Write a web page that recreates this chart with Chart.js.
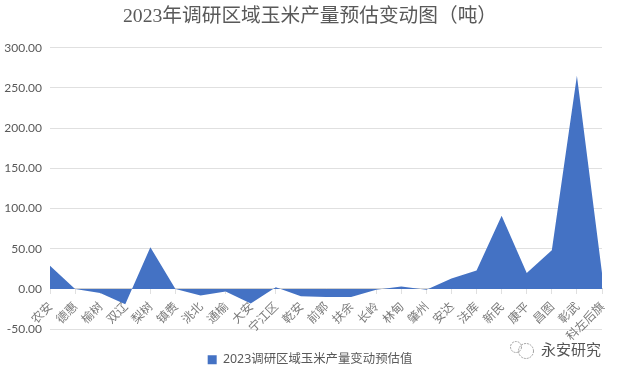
<!DOCTYPE html>
<html>
<head>
<meta charset="utf-8">
<style>
  html, body { margin: 0; padding: 0; background: #ffffff; }
  #wrap { width: 620px; height: 376px; }
</style>
<script src="https://cdn.jsdelivr.net/npm/chart.js@4"></script>
</head>
<body>
<div id="wrap"><canvas id="chartCanvas" width="620" height="376"></canvas></div>
<script>
// ---------------- Data -------------------------------------------------------
const CHART_TITLE = "2023年调研区域玉米产量预估变动图（吨）" ;
const SERIES_NAME = "2023调研区域玉米产量变动预估值" ;
const WATERMARK   = "永安研究" ;

const categories = [
    "农安", "德惠", "榆树", "双辽", "梨树", "镇赉", "洮北", "通榆",
    "大安", "宁江区", "乾安", "前郭", "扶余", "长岭", "林甸", "肇州",
    "安达", "法库", "新民", "康平", "昌图", "彰武", "科左后旗"
] ;
const changeValues = [
    29, 0, -5, -19, 52, 0, -8, -3,
    -18, 2, -9, -10, -10, -1, 3, -1,
    13, 23, 91, 20, 48, 265, 20
] ;
const yTickValues = [ -50, 0, 50, 100, 150, 200, 250, 300 ] ;

// ---------------- Constants --------------------------------------------------
const TEXT_COLOR = "#595959" ;
const GRID_COLOR = "#e0e0e0" ;
const AREA_COLOR = "#4472c4" ;
const SANS_FONT  = "'Noto Sans', 'Noto Sans CJK SC', sans-serif" ;
const CJK_FONT   = "'Noto Sans CJK SC', sans-serif" ;

// The account mark in the bottom right corner of the picture
const watermarkPlugin = {
    id : "watermark",
    afterDraw : function( chart ) {
        const ctx = chart.ctx ;
        ctx.save() ;
        ctx.font = "15px " + CJK_FONT ;
        ctx.fillStyle = "#555555" ;
        ctx.textBaseline = "middle" ;
        ctx.fillText( WATERMARK, 541, 349 ) ;

        ctx.strokeStyle = "#8a8a8a" ;
        ctx.lineWidth = 0.8 ;
        ctx.setLineDash( [ 2, 1 ] ) ;
        ctx.beginPath() ;
        ctx.arc( 516, 347, 5.5, 0, Math.PI * 2 ) ;
        ctx.stroke() ;
        ctx.beginPath() ;
        ctx.arc( 526, 351, 7.5, 0, Math.PI * 2 ) ;
        ctx.stroke() ;
        ctx.restore() ;
    }
} ;

new Chart( document.getElementById( "chartCanvas" ), {
    data : {
        labels : categories,
        datasets : [ {
            type            : "line",
            label           : SERIES_NAME,
            data            : changeValues,
            borderColor     : AREA_COLOR,
            backgroundColor : AREA_COLOR,
            borderWidth     : 0,
            tension         : 0,
            radius          : 0,
            fill            : "origin"
        } ]
    },
    options : {
        responsive : false,
        animation : false,
        plugins : {
            title : {
                display : true,
                text : CHART_TITLE,
                color : TEXT_COLOR,
                font : { family : "'Liberation Serif', 'Noto Sans CJK SC', serif", size : 19.7, weight : "normal" },
                padding : { top : 5, bottom : 19 }
            },
            legend : {
                position : "bottom",
                // the blank legend title only keeps the gap between plot and legend
                title : { display : true, text : " ", font : { size : 12 }, padding : 1.5 },
                labels : {
                    color : TEXT_COLOR,
                    font : { family : SANS_FONT, size : 12.4 },
                    boxWidth : 9,
                    boxHeight : 9,
                    padding : 7
                }
            },
            tooltip : { enabled : false }
        },
        scales : {
            x : {
                type : "category",
                position : { y : 0 },
                offset : false,
                grid : {
                    drawOnChartArea : false,
                    drawTicks : true,
                    tickLength : 5,
                    color : GRID_COLOR
                },
                border : { color : "#d0d0d0", width : 1 },
                ticks : {
                    autoSkip : false,
                    color : "#7a7a7a",
                    font : { family : CJK_FONT, size : 12 },
                    maxRotation : 45,
                    minRotation : 45,
                    padding : 5
                }
            },
            y : {
                min : -50,
                max : 300,
                afterBuildTicks : function( axis ) {
                    axis.ticks = yTickValues.map( function( v ) { return { value : v } ; } ) ;
                },
                afterFit : function( axis ) { axis.width = 50 ; },
                grid : { color : GRID_COLOR, drawTicks : false },
                border : { display : false },
                ticks : {
                    color : TEXT_COLOR,
                    font : { family : "Lato, 'Noto Sans', sans-serif", size : 12 },
                    padding : 8,
                    callback : function( value ) { return value.toFixed( 2 ) ; }
                }
            },
            // empty axis, keeps the right margin without moving the title off centre
            yRight : {
                position : "right",
                min : -50,
                max : 300,
                afterFit : function( axis ) { axis.width = 18 ; },
                grid : { display : false },
                border : { display : false },
                ticks : { display : false }
            }
        }
    },
    plugins : [ watermarkPlugin ]
} ) ;
</script>
</body>
</html>
